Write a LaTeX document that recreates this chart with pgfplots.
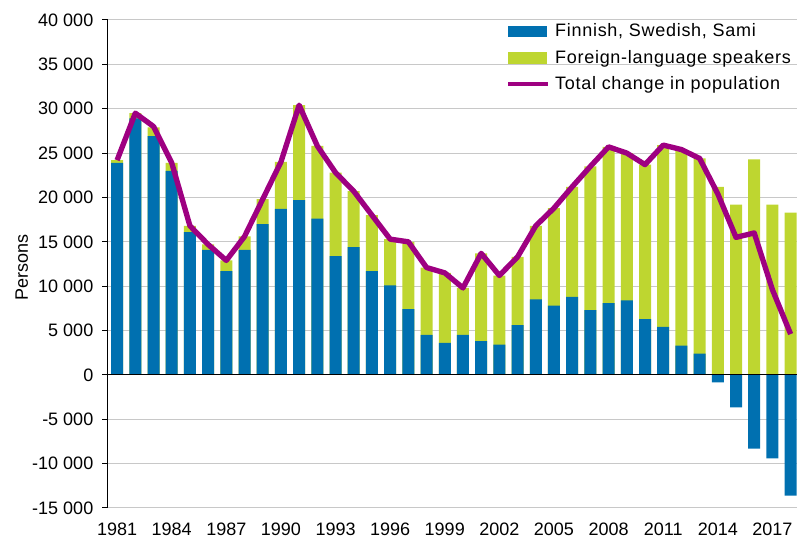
\documentclass[border=0pt]{standalone}
\usepackage{fontspec}
\setmainfont{Liberation Sans}
\usepackage{pgfplots}
\usepackage{pgfplotstable}
\pgfplotsset{compat=1.18}

\definecolor{fsblue}{RGB}{0,112,176}
\definecolor{fsgreen}{RGB}{190,214,48}
\definecolor{fspurple}{RGB}{158,0,129}
\definecolor{gridgray}{RGB}{200,200,200}

% change in population by language group
\pgfplotstableread{
year finnish foreign total
1981 23900 300 24200
1982 28900 600 29500
1983 26900 1000 28000
1984 23000 900 23900
1985 16100 700 16800
1986 14100 600 14700
1987 11700 1200 12900
1988 14100 1500 15600
1989 17000 2800 19800
1990 18700 5300 24000
1991 19700 10700 30400
1992 17600 8200 25800
1993 13400 9400 22800
1994 14400 6300 20700
1995 11700 6300 18000
1996 10100 5200 15300
1997 7400 7600 15000
1998 4500 7600 12100
1999 3600 7900 11500
2000 4500 5300 9800
2001 3800 9900 13700
2002 3400 7800 11200
2003 5600 7700 13300
2004 8500 8300 16800
2005 7800 11000 18800
2006 8800 12400 21200
2007 7300 16200 23500
2008 8100 17600 25700
2009 8400 16600 25000
2010 6300 17400 23700
2011 5400 20500 25900
2012 3300 22100 25400
2013 2400 22000 24400
2014 -850 21200 20400
2015 -3650 19200 15500
2016 -8300 24300 16000
2017 -9400 19200 9600
2018 -13600 18300 4600
}\langdata

\begin{document}
\begin{tikzpicture}
\begin{axis}[
    name=ax,
    scale only axis,
    width=516.75pt, height=366pt,
    xmin=1980.5, xmax=2018.35,
    ymin=-15000, ymax=40000,
    ytick={-15000,-10000,...,40000},
    xtick={1981,1984,...,2017},
    axis y line*=left,
    axis x line*=bottom,
    x axis line style={draw=none},
    y axis line style={line width=0.75pt},
    xtick style={draw=none},
    ytick style={black, line width=0.75pt},
    tick align=outside,
    major tick length=4.5pt,
    ymajorgrids,
    grid style={gridgray, line width=0.75pt},
    tick label style={font=\fontsize{13.5}{16}\selectfont},
    /pgf/number format/assume math mode=true,
    yticklabel style={/pgf/number format/1000 sep={\ }, xshift=-3pt},
    xticklabel style={/pgf/number format/1000 sep={}, yshift=-3pt},
    scaled y ticks=false,
    ylabel={Persons},
    ylabel style={font=\fontsize{13.5}{16}\selectfont, at={(axis description cs:-0.125,0.492)}, anchor=center},
    legend style={at={(axis description cs:0.577,0.994)}, anchor=north west,
        draw=none, fill=none, inner sep=0pt, row sep=7.5pt,
        font=\fontsize{13.5}{16}\selectfont\addfontfeature{LetterSpace=4},
        nodes={inner ysep=0.5pt, inner xsep=3.5pt}},
    legend cell align=left,
]
\addlegendimage{legend image code/.code={\fill[fsblue] (0pt,-4pt) rectangle (28.5pt,4pt);}}
\addlegendentry{Finnish, Swedish, Sami}
\addlegendimage{legend image code/.code={\fill[fsgreen] (0pt,-4pt) rectangle (28.5pt,4pt);}}
\addlegendentry{Foreign-language speakers}
\addlegendimage{legend image code/.code={\draw[fspurple, line width=3.5pt] (0pt,0pt) -- (30pt,0pt);}}
\addlegendentry{Total change in population}

\addplot[ybar, bar width=9pt, bar shift=0pt, fill=fsgreen, draw=none, forget plot]
    table[x=year, y expr={max(\thisrow{finnish},0)+\thisrow{foreign}}]{\langdata};
\addplot[ybar, bar width=9pt, bar shift=0pt, fill=fsblue, draw=none, forget plot]
    table[x=year, y=finnish]{\langdata};
\draw[black, line width=0.75pt] (axis cs:1980.5,0) -- (axis cs:2018.35,0);
\addplot[fspurple, line width=4pt, line join=round, no markers, forget plot]
    table[x=year, y=total]{\langdata};
\end{axis}
\pgfresetboundingbox
\path (ax.south west) ++(-81pt,-24.75pt) coordinate (bbA);
\path (ax.north east) ++(0pt,15pt) coordinate (bbB);
\path (bbA) rectangle (bbB);
\end{tikzpicture}
\end{document}
